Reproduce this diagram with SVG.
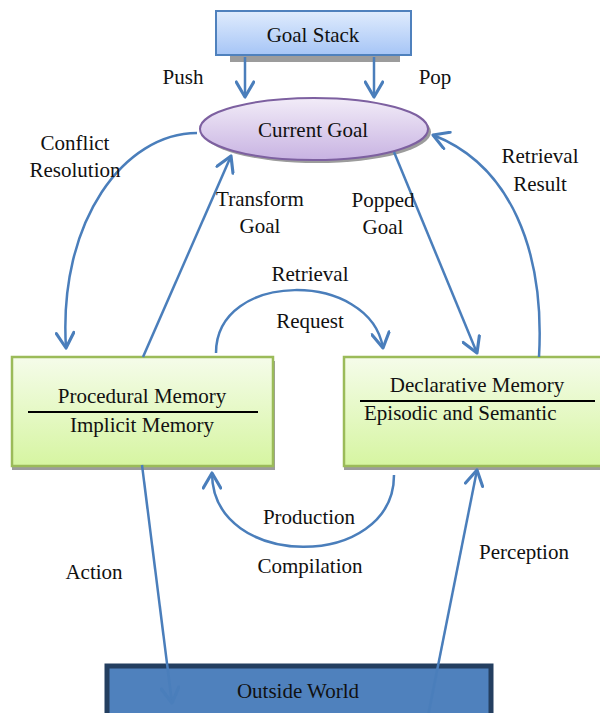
<svg xmlns="http://www.w3.org/2000/svg" width="600" height="713" viewBox="0 0 600 713" font-family="Liberation Serif, Times New Roman, serif" font-size="21">
<defs>
<linearGradient id="gBlue" x1="0" y1="0" x2="0" y2="1"><stop offset="0" stop-color="#e0ecfd"/><stop offset="1" stop-color="#a6c5f6"/></linearGradient>
<linearGradient id="gPurple" x1="0" y1="0" x2="0" y2="1"><stop offset="0" stop-color="#f2ecf8"/><stop offset="1" stop-color="#c8b3e2"/></linearGradient>
<linearGradient id="gGreen" x1="0" y1="0" x2="0" y2="1"><stop offset="0" stop-color="#f5fcea"/><stop offset="1" stop-color="#d6f5a1"/></linearGradient>
<marker id="arr" markerUnits="userSpaceOnUse" markerWidth="20" markerHeight="20" viewBox="0 0 14 16" refX="13" refY="8" orient="auto">
<path d="M1,1 L13,8 L1,15" fill="none" stroke="#4a7ebb" stroke-width="2.5" stroke-linecap="round" stroke-linejoin="round"/>
</marker>
<style>
text{fill:#111;text-anchor:middle}
.c{fill:none;stroke:#4a7ebb;stroke-width:2.5;marker-end:url(#arr)}
.sh{fill:#9c9c9c}
</style>
</defs>
<g id="goal-stack">
<rect class="sh" x="230" y="50" width="170" height="12"/>
<rect x="216" y="11" width="195" height="44" fill="url(#gBlue)" stroke="#4f81bd" stroke-width="2"/>
<text x="313" y="42">Goal Stack</text>
</g>
<g id="current-goal">
<ellipse class="sh" cx="317" cy="132" rx="114" ry="31"/>
<ellipse cx="314" cy="129" rx="114" ry="31" fill="url(#gPurple)" stroke="#7d60a0" stroke-width="2"/>
<text x="313" y="137">Current Goal</text>
</g>
<g id="procedural-memory">
<rect class="sh" x="12" y="361" width="263" height="109"/>
<rect x="12" y="357" width="261" height="109" fill="url(#gGreen)" stroke="#9bbb59" stroke-width="2.5"/>
<text x="142" y="403">Procedural Memory</text>
<line x1="28" y1="412" x2="258" y2="412" stroke="#000" stroke-width="2"/>
<text x="142" y="432">Implicit Memory</text>
</g>
<g id="declarative-memory">
<rect class="sh" x="344" y="361" width="260" height="109"/>
<rect x="344" y="357" width="258" height="109" fill="url(#gGreen)" stroke="#9bbb59" stroke-width="2.5"/>
<text x="477" y="392">Declarative Memory</text>
<line x1="360" y1="401" x2="595" y2="401" stroke="#000" stroke-width="2"/>
<text x="364" y="420" style="text-anchor:start">Episodic and Semantic</text>
</g>
<g id="outside-world">
<rect x="107" y="666" width="384" height="52" fill="#4f81bd" stroke="#243f60" stroke-width="5"/>
<text x="298" y="698">Outside World</text>
</g>
<g id="connectors">
<line class="c" x1="245" y1="57" x2="245" y2="97"/>
<line class="c" x1="374" y1="57" x2="374" y2="97"/>
<path class="c" d="M197,133 C125,133 58,220 66,348"/>
<line class="c" x1="143" y1="357" x2="231" y2="156"/>
<line class="c" x1="394" y1="152" x2="477" y2="353"/>
<path class="c" d="M539,357 C545,250 510,165 433,135"/>
<path class="c" d="M216,353 C216,270 370,270 383,348"/>
<path class="c" d="M394,475 C394,571 212,571 212,473"/>
<line class="c" x1="142" y1="465" x2="172" y2="703"/>
<line class="c" x1="428" y1="716" x2="477" y2="470"/>
</g>
<g id="labels">
<text x="183" y="84">Push</text>
<text x="435" y="84">Pop</text>
<text x="75" y="150">Conflict</text>
<text x="75" y="177">Resolution</text>
<text x="260" y="206">Transform</text>
<text x="260" y="233">Goal</text>
<text x="383" y="207">Popped</text>
<text x="383" y="234">Goal</text>
<text x="540" y="163">Retrieval</text>
<text x="540" y="191">Result</text>
<text x="310" y="281">Retrieval</text>
<text x="310" y="328">Request</text>
<text x="309" y="524">Production</text>
<text x="310" y="573">Compilation</text>
<text x="94" y="579">Action</text>
<text x="524" y="559">Perception</text>
</g>
</svg>
